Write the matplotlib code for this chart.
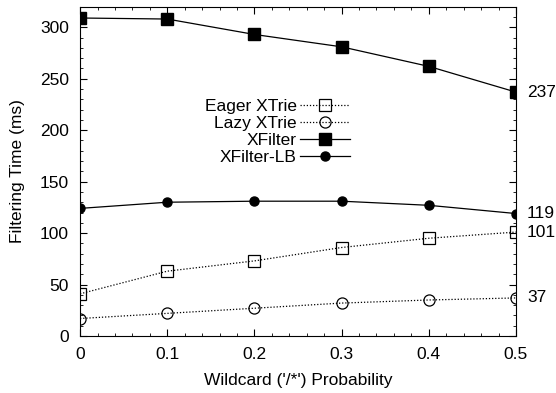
import matplotlib.pyplot as plt
from matplotlib.ticker import MultipleLocator, FuncFormatter

plt.rcParams['font.family'] = ['Liberation Sans', 'DejaVu Sans']
FS = 12.5

# wildcard probability on x, filtering time (ms) per engine
prob = [0, 0.1, 0.2, 0.3, 0.4, 0.5]
eager_xtrie = [41, 63, 73, 86, 95, 101]
lazy_xtrie = [17, 22, 27, 32, 35, 37]
xfilter = [309, 308, 293, 281, 262, 237]
xfilter_lb = [124, 130, 131, 131, 127, 119]

fig = plt.figure(figsize=(5.56, 3.93), dpi=100)
ax = fig.add_axes([0.144, 0.145, 0.784, 0.838])

dots = (0, (1.0, 1.5))
ax.plot(prob, eager_xtrie, color='black', lw=0.9, ls=dots,
        marker='s', ms=8, mfc='none', mec='black', mew=0.9, label='Eager XTrie')
ax.plot(prob, lazy_xtrie, color='black', lw=0.9, ls=dots,
        marker='o', ms=8, mfc='none', mec='black', mew=0.9, label='Lazy XTrie')
ax.plot(prob, xfilter, color='black', lw=0.9, marker='s', ms=8.5,
        label='XFilter')
ax.plot(prob, xfilter_lb, color='black', lw=0.9, marker='o', ms=6.5,
        label='XFilter-LB')

# end values written beside the last points
for series in [xfilter, xfilter_lb, eager_xtrie, lazy_xtrie]:
    ax.annotate(str(series[-1]), xy=(prob[-1], series[-1]),
                xytext=(8, 0), textcoords='offset points',
                va='center', ha='left', fontsize=FS, annotation_clip=False)

ax.set_xlim(0, 0.5)
ax.set_ylim(0, 320)
ax.xaxis.set_major_locator(MultipleLocator(0.1))
ax.xaxis.set_minor_locator(MultipleLocator(0.02))
ax.yaxis.set_major_locator(MultipleLocator(50))
ax.yaxis.set_minor_locator(MultipleLocator(10))
ax.xaxis.set_major_formatter(FuncFormatter(lambda v, p: '0' if abs(v) < 1e-9 else f'{v:g}'))
ax.tick_params(which='both', direction='in', top=True, right=True,
               labelsize=FS, pad=8)
ax.tick_params(which='major', length=5)
ax.tick_params(which='minor', length=2.5)

ax.set_xlabel("Wildcard ('/*') Probability", fontsize=FS, labelpad=8)
ax.set_ylabel('Filtering Time (ms)', fontsize=FS, labelpad=11)

ax.legend(loc='upper right', bbox_to_anchor=(0.64, 0.745), frameon=False,
          markerfirst=False, fontsize=FS, handlelength=2.9,
          handletextpad=0.2, labelspacing=0.1, borderpad=0)

fig.savefig('out.png', dpi=100)
